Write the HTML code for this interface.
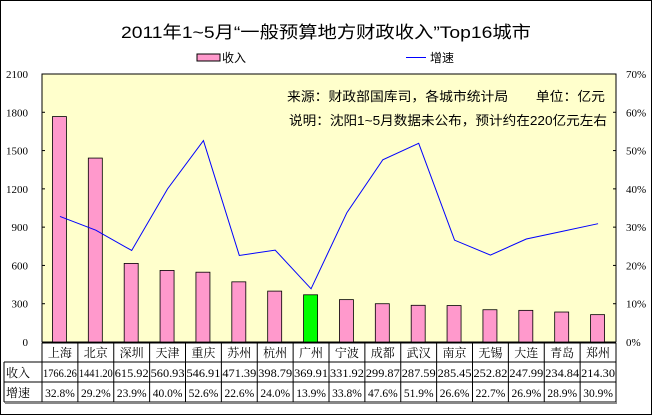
<!DOCTYPE html>
<html><head><meta charset="utf-8"><style>
body{margin:0;background:#fff;}
svg text{font-family:"Liberation Serif","Noto Serif CJK SC",serif;}
</style></head><body>
<svg width="652" height="415" xmlns="http://www.w3.org/2000/svg" id="chart">
<rect x="0.5" y="0.5" width="651" height="414" fill="#fff" stroke="#000"/>
<text x="326" y="38" text-anchor="middle" font-size="17" textLength="410" lengthAdjust="spacingAndGlyphs" style="font-family:'Liberation Sans','Noto Sans CJK SC',sans-serif">2011年1~5月“一般预算地方财政收入”Top16城市</text>
<g>
<rect x="197" y="54" width="23" height="7" fill="#FF99CC" stroke="#000"/>
<text x="222" y="62" font-size="12" style="font-family:'Liberation Sans','Noto Sans CJK SC',sans-serif">收入</text>
<line x1="406" y1="57.5" x2="426" y2="57.5" stroke="#0000FF"/>
<text x="430" y="62" font-size="12" style="font-family:'Liberation Sans','Noto Sans CJK SC',sans-serif">增速</text>
</g>
<rect x="42" y="74" width="574" height="268" fill="#FFFFCC" stroke="#000"/>
<text x="287" y="101" font-size="13" textLength="318" lengthAdjust="spacingAndGlyphs" style="font-family:'Liberation Sans','Noto Sans CJK SC',sans-serif">来源：财政部国库司，各城市统计局　　单位：亿元</text>
<text x="289" y="125" font-size="13" textLength="318" lengthAdjust="spacingAndGlyphs" style="font-family:'Liberation Sans','Noto Sans CJK SC',sans-serif">说明：沈阳1~5月数据未公布，预计约在220亿元左右</text>
<g id="axes"></g><g id="bars"></g><g id="line"></g><g id="table"></g>
</svg>
<script>
const categories=["上海","北京","深圳","天津","重庆","苏州","杭州","广州","宁波","成都","武汉","南京","无锡","大连","青岛","郑州"];
const income=[1766.26,1441.20,615.92,560.93,546.91,471.39,398.79,369.91,331.92,299.87,287.59,285.45,252.82,247.99,234.84,214.30];
const growth=[32.8,29.2,23.9,40.0,52.6,22.6,24.0,13.9,33.8,47.6,51.9,26.6,22.7,26.9,28.9,30.9];
const leftTicks=[0,300,600,900,1200,1500,1800,2100];
const rightTicks=[0,10,20,30,40,50,60,70];
const NS="http://www.w3.org/2000/svg";
const X0=42,X1=616,Y0=342,Y1=74;
const colW=(X1-X0)/categories.length;
const yL=v=>Y0-(v/2100)*(Y0-Y1);
const yR=v=>Y0-(v/70)*(Y0-Y1);
const xC=i=>X0+colW*(i+0.5);
function mk(tag,attrs,parent,txt){const e=document.createElementNS(NS,tag);for(const k in attrs)e.setAttribute(k,attrs[k]);if(txt!==undefined)e.textContent=txt;document.getElementById(parent).appendChild(e);return e;}
leftTicks.forEach(t=>{
 const e=mk('text',{x:28,y:yL(t)+4,'text-anchor':'end','font-size':11},'axes',String(t));
 
 
 const l=mk('line',{x1:X0,x2:X0+3,y1:yL(t),y2:yL(t),stroke:'#000'},'axes');
 
 
});
rightTicks.forEach(t=>{
 const e=mk('text',{x:626,y:yR(t)+4,'font-size':11},'axes',t+'%');
 
 
 const l=mk('line',{x1:X1-3,x2:X1,y1:yR(t),y2:yR(t),stroke:'#000'},'axes');
 
 
});
income.forEach((v,i)=>{
 const b=mk('rect',{x:xC(i)-7.5,y:yL(v),width:14,height:Y0-yL(v),fill:categories[i]==="广州"?'#00FF00':'#FF99CC',stroke:'#000','stroke-width':0.8},'bars');
 
 
});
const pl=mk('polyline',{points:growth.map((g,i)=>xC(i)+','+yR(g)).join(' '),fill:'none',stroke:'#0000FF','stroke-width':1},'line');


const rows=[343,362,382,402];
const TL=4;
for(let r=0;r<rows.length;r++){
 const x1=r===0?X0:TL;
 const l=mk('line',{x1:x1,x2:X1,y1:rows[r],y2:rows[r],stroke:'#000'},'table');
 
 
}
const lv=mk('line',{x1:TL,x2:TL,y1:362,y2:402,stroke:'#000'},'table');


for(let i=0;i<=categories.length;i++){
 const x=X0+colW*i;
 const l=mk('line',{x1:x,x2:x,y1:343,y2:402,stroke:'#000'},'table');
 
 
}
const sh=mk('rect',{x:TL+1,y:402,width:X1-TL,height:2,fill:'#888'},'table');


[['收入',377],['增速',397]].forEach(([t,y])=>{
 const e=mk('text',{x:TL+2,y:y,'font-size':12},'table',t);
 
 
});
categories.forEach((c,i)=>{
 const a=mk('text',{x:xC(i),y:357,'text-anchor':'middle','font-size':12},'table',c);
 
 
 const b=mk('text',{x:xC(i),y:377,'text-anchor':'middle','font-size':11.5,textLength:colW-2,lengthAdjust:'spacingAndGlyphs'},'table',income[i].toFixed(2));
 
 
 const g=mk('text',{x:xC(i),y:397,'text-anchor':'middle','font-size':11.5},'table',growth[i].toFixed(1)+'%');
 
 
});
</script>
</body></html>
